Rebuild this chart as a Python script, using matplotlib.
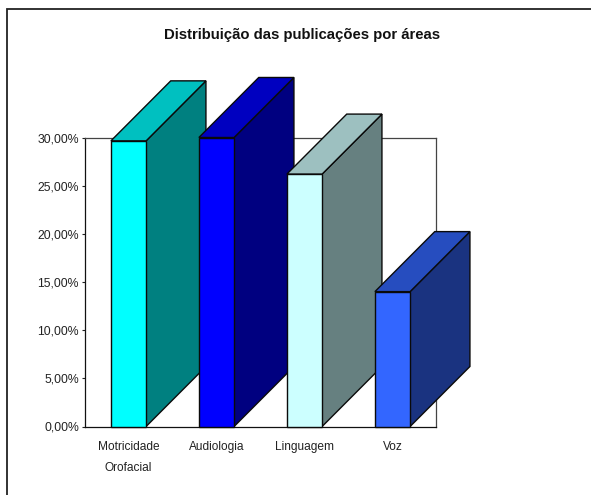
import matplotlib
matplotlib.use("Agg")
import matplotlib.pyplot as plt
from matplotlib.lines import Line2D
from matplotlib.patches import Polygon, Rectangle

categories = ["Motricidade\nOrofacial", "Audiologia", "Linguagem", "Voz"]
values = [29.65, 30.0, 26.2, 14.0]
front_colors = ["#00FFFF", "#0000FF", "#CCFFFF", "#3366FF"]
top_colors = ["#00C0C0", "#0000C0", "#9DC0C0", "#264DBF"]
side_colors = ["#008080", "#000080", "#668080", "#1A3380"]
title = "Distribuição das publicações por áreas"

W, H = 591, 495
BAR_W = 0.4
DEPTH_X = 0.68  # 60 px, in category units
DEPTH_Y = 6.23  # 60 px, in percent

plt.rcParams["font.family"] = ["Liberation Sans", "DejaVu Sans"]

fig = plt.figure(figsize=(W / 100, H / 100), dpi=100)
fig.patch.set_facecolor("white")

# outer chart frame: only top and left are inside the picture
fig.add_artist(Line2D([6.7 / W, 6.7 / W, 1], [0, 1 - 9 / H, 1 - 9 / H], transform=fig.transFigure,
                      color="#222222", linewidth=1.3, solid_joinstyle="miter"))

ax = fig.add_axes([84.5 / W, 1 - 426.5 / H, 352 / W, 289 / H])
ax.set_xlim(0, 4)
ax.set_ylim(0, 30)
ax.set_yticks(range(0, 31, 5))
ax.set_yticklabels([f"{v},00%" for v in range(0, 31, 5)], fontsize=8.8, color="#222222")
ax.set_xticks([i + 0.5 for i in range(4)])
ax.set_xticklabels(categories, fontsize=8.6, color="#222222", linespacing=2.0)
ax.tick_params(axis="x", length=0, pad=10.5)
ax.tick_params(axis="y", length=2.5, width=0.8, pad=1.5, color="#222222")

for s in ["top", "right"]:
    ax.spines[s].set_linewidth(0.9)
    ax.spines[s].set_color("#444444")
for s in ["left", "bottom"]:
    ax.spines[s].set_linewidth(0.9)
    ax.spines[s].set_color("#111111")

for i, v in enumerate(values):
    x0 = i + 0.5 - BAR_W / 2
    x1 = i + 0.5 + BAR_W / 2
    kw = dict(edgecolor="#0a0a0a", linewidth=1.0, clip_on=False, joinstyle="miter")
    ax.add_patch(Polygon([(x1, 0), (x1 + DEPTH_X, DEPTH_Y), (x1 + DEPTH_X, v + DEPTH_Y), (x1, v)],
                         facecolor=side_colors[i], zorder=3 + i, **kw))
    ax.add_patch(Polygon([(x0, v), (x0 + DEPTH_X, v + DEPTH_Y), (x1 + DEPTH_X, v + DEPTH_Y), (x1, v)],
                         facecolor=top_colors[i], zorder=3 + i, **kw))
    ax.add_patch(Rectangle((x0, 0), BAR_W, v, facecolor=front_colors[i], zorder=3 + i, **kw))

fig.text(302.5 / W, 1 - 35 / H, title, ha="center", va="center", fontsize=10.7, fontweight="bold",
         color="#111111")

fig.savefig("out.png", dpi=100)
